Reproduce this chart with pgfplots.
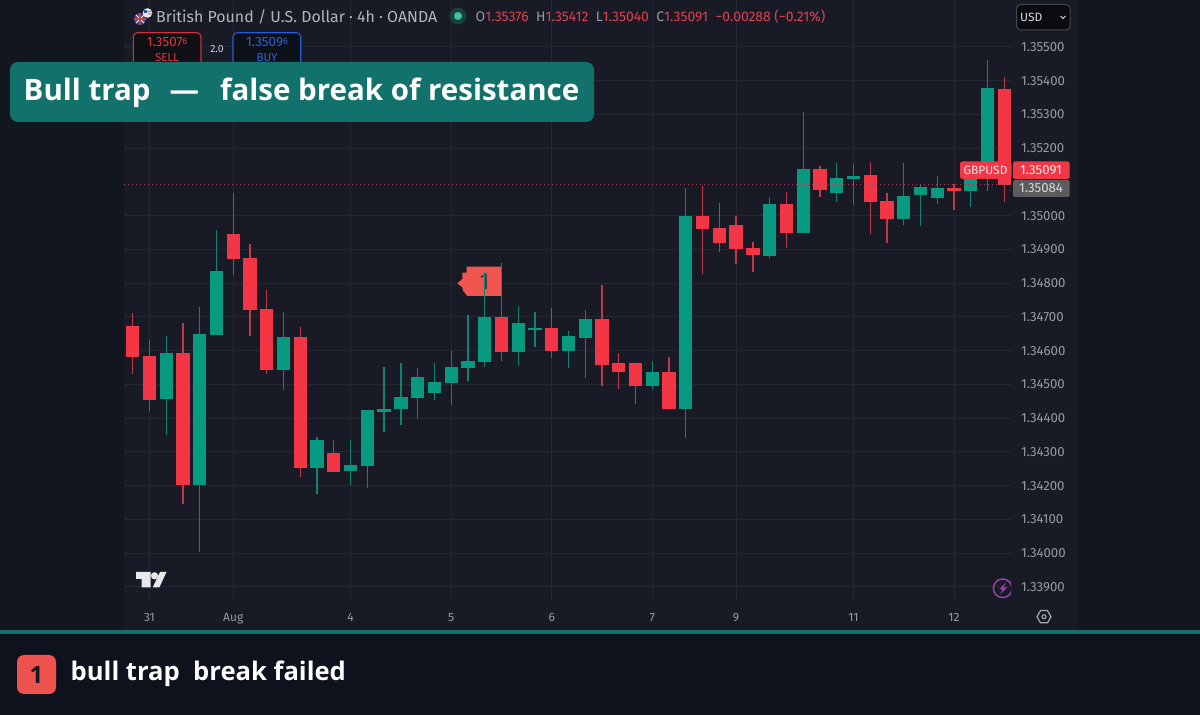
\documentclass[border=0pt]{standalone}
\usepackage{pgfplots}
\usepackage{pgfplotstable}
\usepackage{fontspec}
\pgfplotsset{compat=1.18}
\setmainfont{Open Sans}
\newfontfamily\tv{Fira Sans}
\definecolor{pagebg}{HTML}{181B26}
\definecolor{sidebg}{HTML}{12161F}
\definecolor{bandbg}{HTML}{0E121C}
\definecolor{teal2}{HTML}{12716B}
\definecolor{gridc}{HTML}{242833}
\definecolor{up}{HTML}{089981}
\definecolor{dn}{HTML}{F23645}
\definecolor{upw}{HTML}{0C8573}
\definecolor{dnw}{HTML}{C23A4A}
\definecolor{lab}{HTML}{989BA4}
\definecolor{flagc}{HTML}{F0564F}
\definecolor{flagt}{HTML}{4A3A3C}
\definecolor{lvl}{HTML}{A04458}
\definecolor{badge}{HTML}{EF5350}
\definecolor{ink}{HTML}{15181F}
\definecolor{ukb}{HTML}{2A4C9A}
\definecolor{ukr}{HTML}{D83A45}
\definecolor{usw}{HTML}{E8E8EE}
\definecolor{usr}{HTML}{D85A60}
\definecolor{hdr}{HTML}{B2B5BE}
\definecolor{halo}{HTML}{17403C}
\definecolor{dot}{HTML}{3CC2A0}
\definecolor{numr}{HTML}{E0414F}
\definecolor{sb}{HTML}{C7333F}
\definecolor{sf}{HTML}{100F14}
\definecolor{bb}{HTML}{2A5AD5}
\definecolor{bf}{HTML}{0C1018}
\definecolor{st}{HTML}{DC3542}
\definecolor{bt}{HTML}{2F62D8}
\definecolor{qty}{HTML}{D0D2D8}
\definecolor{usdb}{HTML}{43464E}
\definecolor{usdf}{HTML}{0A0B0E}
\definecolor{usdt}{HTML}{D8DAE0}
\definecolor{tag1}{HTML}{F4E6E8}
\definecolor{tag2}{HTML}{FBEFF0}
\definecolor{gray1}{HTML}{5C5C5E}
\definecolor{gray2}{HTML}{D8D8DA}
\definecolor{logo}{HTML}{E8E9EC}
\definecolor{purp}{HTML}{9C3FAE}
\definecolor{gear}{HTML}{A6A9B1}
% columns: candle index, high, low, body top, body bottom
\pgfplotstableread{
i h l t b
0 1.34711 1.34530 1.34674 1.34581
1 1.34630 1.34421 1.34584 1.34454
3 1.34683 1.34146 1.34592 1.34203
6 1.35067 1.34824 1.34946 1.34871
7 1.34915 1.34642 1.34873 1.34720
8 1.34780 1.34530 1.34723 1.34544
10 1.34671 1.34225 1.34641 1.34253
12 1.34334 1.34240 1.34297 1.34240
22 1.34861 1.34569 1.34701 1.34596
25 1.34726 1.34579 1.34667 1.34599
28 1.34795 1.34496 1.34695 1.34557
29 1.34592 1.34487 1.34562 1.34538
30 1.34563 1.34441 1.34563 1.34496
32 1.34581 1.34426 1.34538 1.34426
34 1.35089 1.34828 1.35000 1.34961
35 1.35037 1.34893 1.34964 1.34918
36 1.34998 1.34858 1.34973 1.34901
37 1.34922 1.34832 1.34904 1.34883
39 1.35069 1.34905 1.35033 1.34949
41 1.35148 1.35055 1.35138 1.35076
44 1.35159 1.34946 1.35121 1.35040
45 1.35067 1.34920 1.35042 1.34991
49 1.35093 1.35017 1.35082 1.35073
52 1.35412 1.35040 1.35376 1.35091
}\redT
\pgfplotstableread{
i h l t b
2 1.34644 1.34350 1.34592 1.34457
4 1.34729 1.34003 1.34648 1.34203
5 1.34956 1.34645 1.34837 1.34645
9 1.34714 1.34482 1.34641 1.34544
11 1.34345 1.34176 1.34334 1.34253
13 1.34334 1.34201 1.34261 1.34243
14 1.34424 1.34194 1.34424 1.34258
15 1.34550 1.34360 1.34426 1.34418
16 1.34563 1.34379 1.34463 1.34427
17 1.34548 1.34397 1.34523 1.34460
18 1.34563 1.34454 1.34508 1.34474
19 1.34598 1.34438 1.34551 1.34505
20 1.34707 1.34510 1.34569 1.34548
21 1.34834 1.34551 1.34701 1.34566
23 1.34733 1.34553 1.34683 1.34596
24 1.34714 1.34611 1.34668 1.34662
26 1.34659 1.34548 1.34643 1.34599
27 1.34719 1.34519 1.34695 1.34638
31 1.34568 1.34487 1.34538 1.34496
33 1.35083 1.34342 1.35000 1.34426
38 1.35056 1.34873 1.35033 1.34880
40 1.35306 1.34949 1.35138 1.34949
42 1.35157 1.35039 1.35112 1.35067
43 1.35152 1.35031 1.35117 1.35109
46 1.35157 1.34971 1.35058 1.34990
47 1.35092 1.34968 1.35084 1.35061
48 1.35118 1.35034 1.35081 1.35052
50 1.35121 1.35027 1.35115 1.35072
51 1.35462 1.35073 1.35379 1.35115
}\greenT
\begin{document}
\begin{tikzpicture}[x=1pt,y=1pt]
\useasboundingbox (0,0) rectangle (1200,715);
\fill[sidebg] (0,0) rectangle (1200,715);
\fill[pagebg] (124,81) rectangle (1078,715);
\begin{axis}[
  at={(124pt,115pt)},anchor=south west,
  width=888pt,height=600pt,scale only axis,
  xmin=-0.519,xmax=52.46,
  ymin=1.33861,ymax=1.35639,
  axis line style={draw=none},
  major tick length=0pt,
  xmajorgrids,ymajorgrids,
  grid style={gridc,line width=0.9pt},
  xtick={1,6,13,19,25,31,36,43,49},
  xticklabels={31,Aug,4,5,6,7,9,11,12},
  ytick={1.339,1.340,1.341,1.342,1.343,1.344,1.345,1.346,1.347,1.348,1.349,1.350,1.352,1.353,1.354,1.355},
  ytick pos=right,yticklabel pos=right,
  scaled y ticks=false,
  tick label style={lab,font=\tv\fontsize{13.2}{14}\selectfont},
  yticklabel style={xshift=5.5pt,/pgf/number format/.cd,fixed,fixed zerofill,precision=5,1000 sep={},assume math mode=true},
  xticklabel style={font=\tv\fontsize{12}{13}\selectfont,yshift=-10pt},
  clip=true,
]
% flag marker above the grid and behind the candles, in image pixels
\fill[flagc,x=1pt,y=-1pt,shift={(rel axis cs:0,1)},xshift=-124pt] (501,266.7)--(466.7,266.7)--(466.7,272.7)--(462.3,272.7)--(462.3,279)--(457.3,283.3)--(462.3,287.3)--(463,290.7)--(467.3,296)--(501,296)--cycle;
\path[x=1pt,y=-1pt,shift={(rel axis cs:0,1)},xshift=-124pt] (484.5,282) node[text=flagt,font=\tv\fontsize{23}{23}\selectfont] {1};
\addplot[draw=none,mark=none,forget plot,error bars/.cd,y dir=plus,y explicit,error mark=none,error bar style={dnw,line width=1.3pt}] table[x=i,y=l,y error plus expr=\thisrow{h}-\thisrow{l}] {\redT};
\addplot[draw=none,mark=none,forget plot,error bars/.cd,y dir=plus,y explicit,error mark=none,error bar style={upw,line width=1.3pt}] table[x=i,y=l,y error plus expr=\thisrow{h}-\thisrow{l}] {\greenT};
\addplot[draw=none,mark=none,forget plot,error bars/.cd,y dir=plus,y explicit,error mark=none,error bar style={dn,line width=13.3pt}] table[x=i,y=b,y error plus expr=\thisrow{t}-\thisrow{b}] {\redT};
\addplot[draw=none,mark=none,forget plot,error bars/.cd,y dir=plus,y explicit,error mark=none,error bar style={up,line width=13.3pt}] table[x=i,y=b,y error plus expr=\thisrow{t}-\thisrow{b}] {\greenT};
% current price level
\addplot[draw=lvl,line width=0.9pt,dash pattern=on 1.3pt off 2.7pt,forget plot] coordinates {(-0.519,1.35091) (52.46,1.35091)};
\end{axis}
\begin{scope}[x=1pt,y=-1pt,shift={(0pt,715pt)}]
% bottom band
\fill[bandbg] (0,634) rectangle (1200,715);
\fill[teal2] (0,630) rectangle (1200,634.5);
\fill[badge,rounded corners=7pt] (17,655) rectangle (56,694);
\node[text=ink,font=\bfseries\fontsize{24}{24}\selectfont] at (36.5,674.5) {1};
\node[anchor=base west,text=white,font=\bfseries\fontsize{25.6}{26}\selectfont,inner sep=0pt] at (70.5,681) {bull trap\ \ break failed};
% header
\fill[ukb] (140,19) circle (6);
\draw[white,line width=1pt] (136,15)--(144,23) (136,23)--(144,15);
\draw[ukr,line width=1.4pt] (134,19)--(146,19) (140,13)--(140,25);
\fill[usw] (147.5,13) circle (4.8);
\fill[usr] (147.5,11) rectangle (151,12) (147.5,13.5) rectangle (152,14.5);
\fill[ukb] (144,10) rectangle (147,13);
\node[anchor=base west,inner sep=0pt,text=hdr,font=\tv\fontsize{15.9}{16}\selectfont] at (156,22.5) {British Pound / U.S. Dollar · 4h · OANDA};
\fill[halo] (458,16) circle (8.5);
\fill[dot] (458,16) circle (4);
\node[anchor=base west,inner sep=0pt,font=\tv\fontsize{13.9}{14}\selectfont,text=numr] at (475.5,21.5) {\textcolor{lab}{O}1.35376\ \ \textcolor{lab}{H}1.35412\ \ \textcolor{lab}{L}1.35040\ \ \textcolor{lab}{C}1.35091\ \ −0.00288 (−0.21\%)};
% order boxes
\draw[sb,fill=sf,line width=1.1pt,rounded corners=4pt] (133.3,32.8) rectangle (201,70);
\draw[bb,fill=bf,line width=1.1pt,rounded corners=4pt] (233,32.8) rectangle (300.7,70);
\node[text=st,font=\tv\fontsize{13.4}{14}\selectfont] at (167,42.5) {1.3507\raisebox{2.5pt}{\fontsize{9}{9}\selectfont 6}};
\node[text=st,font=\tv\fontsize{11.5}{12}\selectfont] at (167,57.5) {SELL};
\node[text=bt,font=\tv\fontsize{13.4}{14}\selectfont] at (267,42.5) {1.3509\raisebox{2.5pt}{\fontsize{9}{9}\selectfont 6}};
\node[text=bt,font=\tv\fontsize{11.5}{12}\selectfont] at (267,57.5) {BUY};
\node[text=qty,font=\tv\fontsize{10.5}{11}\selectfont] at (217,49.5) {2.0};
% title banner
\fill[teal2,rounded corners=8pt] (10,62) rectangle (594,122);
\node[anchor=base west,inner sep=0pt,text=white,font=\bfseries\fontsize{29.5}{30}\selectfont] at (23.5,100.5) {Bull trap\hspace{19pt}—\hspace{21pt}false break of resistance};
% USD box
\draw[usdb,fill=usdf,line width=1pt,rounded corners=4pt] (1016.7,4.5) rectangle (1070,30);
\node[anchor=west,inner sep=0pt,text=usdt,font=\tv\fontsize{12}{12}\selectfont] at (1020,17) {USD};
\draw[usdt,line width=1pt] (1060.5,16)--(1063,18.5)--(1065.5,16);
% price tags
\fill[dn,rounded corners=2.5pt] (960,161.5) rectangle (1011.5,179);
\node[text=tag1,font=\tv\fontsize{12}{12}\selectfont] at (985.5,170.5) {GBPUSD};
\fill[dn,rounded corners=1.5pt] (1013,161.5) rectangle (1069.5,179);
\node[text=tag2,font=\tv\fontsize{13.2}{14}\selectfont] at (1041,170.5) {1.35091};
\fill[gray1,rounded corners=1.5pt] (1013,180) rectangle (1069.5,197);
\node[text=gray2,font=\tv\fontsize{13.2}{14}\selectfont] at (1041,188.5) {1.35084};
% TradingView logo
\fill[logo] (136,572)--(150.7,572)--(150.7,587.5)--(141.7,587.5)--(141.7,579)--(136,579)--cycle;
\fill[logo] (154.5,575.8) circle (3.6);
\fill[logo] (160,572)--(166.5,572)--(159.3,587.5)--(152.7,587.5)--cycle;
% lightning badge
\begin{scope}
\clip (990,575) rectangle (1011,602);
\draw[purp,line width=1.5pt] (1002.7,588.3) circle (9.3);
\end{scope}
\fill[purp] (1006,582.5)--(999,589.5)--(1002.5,589.5)--(1000,594.5)--(1007,587.5)--(1003.5,587.5)--cycle;
% settings
\draw[gear,line width=1.2pt] (1037,616.7)--(1040.5,610.6)--(1047.5,610.6)--(1051,616.7)--(1047.5,622.8)--(1040.5,622.8)--cycle;
\draw[gear,line width=1.1pt] (1044,616.7) circle (2);
\end{scope}
\end{tikzpicture}
\end{document}
